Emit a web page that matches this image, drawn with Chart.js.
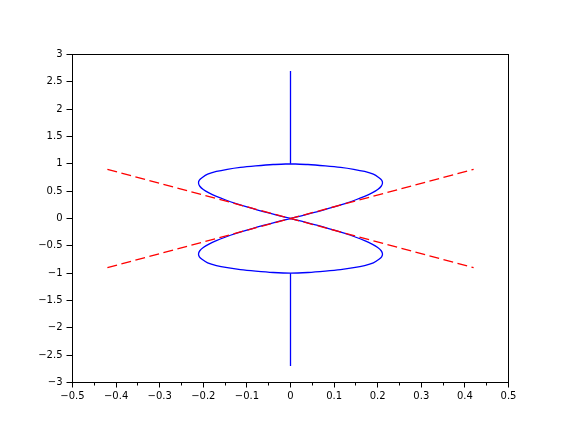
<!DOCTYPE html>
<html>
<head>
<meta charset="utf-8">
<script src="https://cdn.jsdelivr.net/npm/chart.js@4"></script>
<style>
  body { margin: 0; background: #fff; }
  canvas { display: block; }
</style>
</head>
<body>
<canvas id="grafico" width="581" height="438"></canvas>
<script>
// figure-eight curve, starting at (0,1)
const loopX = [0, -0.04, -0.08, -0.115, -0.145, -0.17, -0.19, -0.203, -0.209, -0.211,
  -0.208, -0.2, -0.187, -0.17, -0.15, -0.125, -0.1, -0.075, -0.05, -0.025,
  0, 0.025, 0.05, 0.075, 0.1, 0.125, 0.15, 0.17, 0.187, 0.2, 0.208,
  0.211, 0.209, 0.203, 0.19, 0.17, 0.145, 0.115, 0.08, 0.04,
  0, -0.04, -0.08, -0.115, -0.145, -0.17, -0.19, -0.203, -0.209, -0.211,
  -0.208, -0.2, -0.187, -0.17, -0.15, -0.125, -0.1, -0.075, -0.05, -0.025,
  0, 0.025, 0.05, 0.075, 0.1, 0.125, 0.15, 0.17, 0.187, 0.2, 0.208,
  0.211, 0.209, 0.203, 0.19, 0.17, 0.145, 0.115, 0.08, 0.04, 0];
const loopY = [1, 0.988, 0.963, 0.935, 0.9, 0.86, 0.81, 0.745, 0.7, 0.65,
  0.59, 0.53, 0.468, 0.405, 0.343, 0.274, 0.212, 0.155, 0.101, 0.05,
  0, -0.05, -0.101, -0.155, -0.212, -0.274, -0.343, -0.405, -0.468, -0.53, -0.59,
  -0.65, -0.7, -0.745, -0.81, -0.86, -0.9, -0.935, -0.963, -0.988,
  -1, -0.988, -0.963, -0.935, -0.9, -0.86, -0.81, -0.745, -0.7, -0.65,
  -0.59, -0.53, -0.468, -0.405, -0.343, -0.274, -0.212, -0.155, -0.101, -0.05,
  0, 0.05, 0.101, 0.155, 0.212, 0.274, 0.343, 0.405, 0.468, 0.53, 0.59,
  0.65, 0.7, 0.745, 0.81, 0.86, 0.9, 0.935, 0.963, 0.988, 1];

// vertical stems
const stemTopX = [0, 0];
const stemTopY = [1, 2.7];
const stemBotX = [0, 0];
const stemBotY = [-1, -2.7];

// red dashed lines
const redAX = [-0.42, 0.42];
const redAY = [0.9, -0.9];
const redBX = [-0.42, 0.42];
const redBY = [-0.9, 0.9];

// ticks
const xMin = -0.5, xMax = 0.5, xStep = 0.1;
const yMin = -3, yMax = 3, yStep = 0.5;
const minorXTicks = [-0.45, -0.35, -0.25, -0.15, -0.05, 0.05, 0.15, 0.25, 0.35, 0.45];

function pontos(xs, ys) {
  return xs.map((x, i) => ({ x: x, y: ys[i] }));
}

function rotulo(v) {
  if (Math.abs(v) < 1e-9) return "0";
  return String(parseFloat(v.toFixed(2))).replace("-", "\u2212");
}

const moldura = {
  id: "moldura",
  afterDraw(chart) {
    const ctx = chart.ctx;
    const a = chart.chartArea;
    const sx = chart.scales.x;
    ctx.save();
    ctx.strokeStyle = "#000";
    ctx.lineWidth = 1;
    ctx.strokeRect(a.left, a.top, a.right - a.left, a.bottom - a.top);
    ctx.beginPath();
    minorXTicks.forEach(v => {
      const px = Math.floor(sx.getPixelForValue(v)) + 0.5;
      ctx.moveTo(px, a.bottom);
      ctx.lineTo(px, a.bottom + 3);
    });
    ctx.stroke();
    ctx.restore();
  }
};

const linhaAzul = { borderColor: "#0000ff", borderWidth: 1.3, showLine: true, pointRadius: 0, fill: false };
const linhaVermelha = { borderColor: "#ff0000", borderWidth: 1.3, showLine: true, pointRadius: 0, fill: false, borderDash: [10, 4.5] };

const ctx = document.getElementById("grafico").getContext("2d");
const grafico = new Chart(ctx, {
  type: "scatter",
  data: {
    datasets: [
      Object.assign({ data: pontos(redAX, redAY) }, linhaVermelha),
      Object.assign({ data: pontos(redBX, redBY) }, linhaVermelha),
      Object.assign({ data: pontos(loopX, loopY), tension: 0.25 }, linhaAzul),
      Object.assign({ data: pontos(stemTopX, stemTopY) }, linhaAzul),
      Object.assign({ data: pontos(stemBotX, stemBotY) }, linhaAzul)
    ]
  },
  options: {
    responsive: false,
    animation: false,
    layout: { padding: { left: 0.5, top: 54.5, right: 72.5, bottom: 25.5 } },
    plugins: { legend: { display: false }, tooltip: { enabled: false } },
    scales: {
      x: {
        type: "linear",
        min: xMin, max: xMax,
        border: { display: false },
        grid: { drawOnChartArea: false, drawTicks: true, tickLength: 5, tickColor: "#000" },
        ticks: { stepSize: xStep, color: "#000", padding: 3, maxRotation: 0,
          font: { family: "DejaVu Sans", size: 10 }, callback: v => rotulo(v) },
        afterFit: s => { s.height = 30; }
      },
      y: {
        type: "linear",
        min: yMin, max: yMax,
        border: { display: false },
        grid: { drawOnChartArea: false, drawTicks: true, tickLength: 6, tickColor: "#000" },
        ticks: { stepSize: yStep, color: "#000", padding: 4,
          font: { family: "DejaVu Sans", size: 10 }, callback: v => rotulo(v) },
        afterFit: s => { s.width = 72; }
      }
    }
  },
  plugins: [moldura]
});
</script>
</body>
</html>
